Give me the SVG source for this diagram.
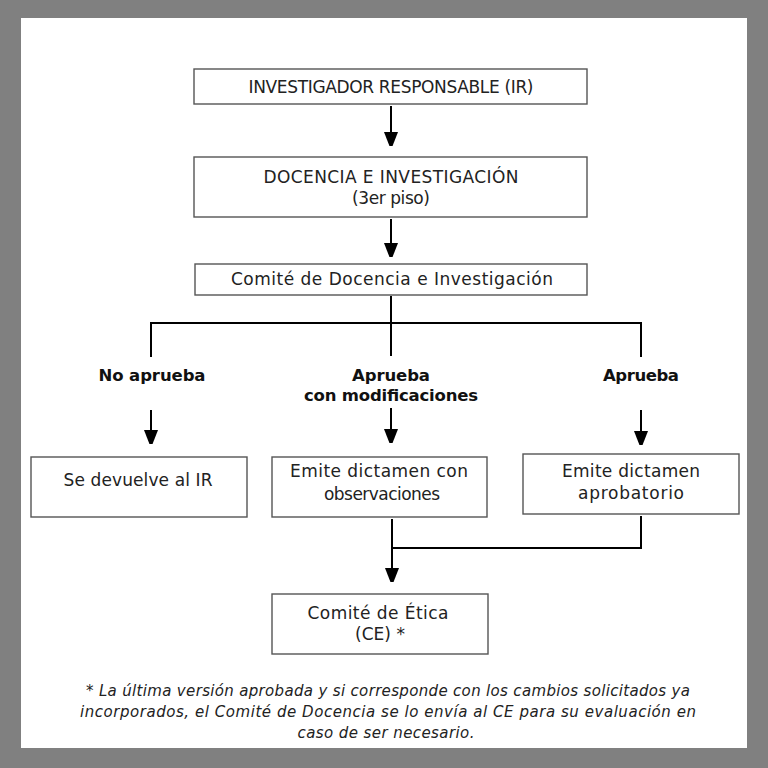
<svg xmlns="http://www.w3.org/2000/svg" width="768" height="768" viewBox="0 0 768 768">
<defs>
<marker id="ah" viewBox="0 0 14 18" refX="14" refY="7" markerWidth="14" markerHeight="18" markerUnits="userSpaceOnUse" orient="auto">
<path d="M0,0 L18,7 L0,14 Z" fill="#000"/>
</marker>
<style>
.box{fill:#fff;stroke:#555;stroke-width:1.4}
.t{font-family:"DejaVu Sans","Liberation Sans",sans-serif;font-size:17px;fill:#222;text-anchor:middle}
.b{font-family:"DejaVu Sans","Liberation Sans",sans-serif;font-size:16.5px;font-weight:bold;fill:#111;text-anchor:middle}
.n{font-family:"DejaVu Sans","Liberation Sans",sans-serif;font-size:15px;font-style:italic;fill:#222;text-anchor:middle}
.c{fill:none;stroke:#000;stroke-width:2}
</style>
</defs>
<rect x="0" y="0" width="768" height="768" fill="#808080"/>
<rect x="21" y="18" width="726" height="730" fill="#fff"/>

<g id="connectors">
<line class="c" x1="391" y1="106" x2="391" y2="146" marker-end="url(#ah)"/>
<line class="c" x1="391" y1="219" x2="391" y2="257" marker-end="url(#ah)"/>
<line class="c" x1="391" y1="296" x2="391" y2="356"/>
<polyline class="c" points="151,357 151,323 641,323 641,357"/>
<line class="c" x1="151" y1="410" x2="151" y2="444" marker-end="url(#ah)"/>
<line class="c" x1="391" y1="408" x2="391" y2="443" marker-end="url(#ah)"/>
<line class="c" x1="641" y1="410" x2="641" y2="445" marker-end="url(#ah)"/>
<line class="c" x1="392" y1="519" x2="392" y2="582" marker-end="url(#ah)"/>
<polyline class="c" points="641,516 641,548 392,548"/>
</g>

<g id="n1">
<rect class="box" x="194" y="69" width="393" height="35"/>
<text class="t" x="391" y="93" textLength="285">INVESTIGADOR RESPONSABLE (IR)</text>
</g>
<g id="n2">
<rect class="box" x="194" y="157" width="393" height="60"/>
<text class="t" x="391" y="183" textLength="255">DOCENCIA E INVESTIGACIÓN</text>
<text class="t" x="391" y="204" textLength="78">(3er piso)</text>
</g>
<g id="n3">
<rect class="box" x="195" y="264" width="392" height="31"/>
<text class="t" x="392" y="285" textLength="322">Comité de Docencia e Investigación</text>
</g>
<g id="l1">
<text class="b" x="152" y="381" textLength="107">No aprueba</text>
</g>
<g id="l2">
<text class="b" x="391" y="381" textLength="78">Aprueba</text>
<text class="b" x="391" y="401" textLength="174">con modificaciones</text>
</g>
<g id="l3">
<text class="b" x="641" y="381" textLength="76">Aprueba</text>
</g>
<g id="n4">
<rect class="box" x="31" y="457" width="216" height="60"/>
<text class="t" x="138" y="486" textLength="149">Se devuelve al IR</text>
</g>
<g id="n5">
<rect class="box" x="272" y="457" width="215" height="60"/>
<text class="t" x="379" y="477" textLength="178">Emite dictamen con</text>
<text class="t" x="382" y="500" textLength="116">observaciones</text>
</g>
<g id="n6">
<rect class="box" x="523" y="454" width="216" height="60"/>
<text class="t" x="631" y="477" textLength="138">Emite dictamen</text>
<text class="t" x="631" y="499" textLength="106">aprobatorio</text>
</g>
<g id="n7">
<rect class="box" x="272" y="594" width="216" height="60"/>
<text class="t" x="378" y="619" textLength="141">Comité de Ética</text>
<text class="t" x="380" y="640">(CE) *</text>
</g>
<g id="note">
<text class="n" x="388" y="696" textLength="604">* La última versión aprobada y si corresponde con los cambios solicitados ya</text>
<text class="n" x="388" y="717" textLength="616">incorporados, el Comité de Docencia se lo envía al CE para su evaluación en</text>
<text class="n" x="386" y="738" textLength="177">caso de ser necesario.</text>
</g>
</svg>
